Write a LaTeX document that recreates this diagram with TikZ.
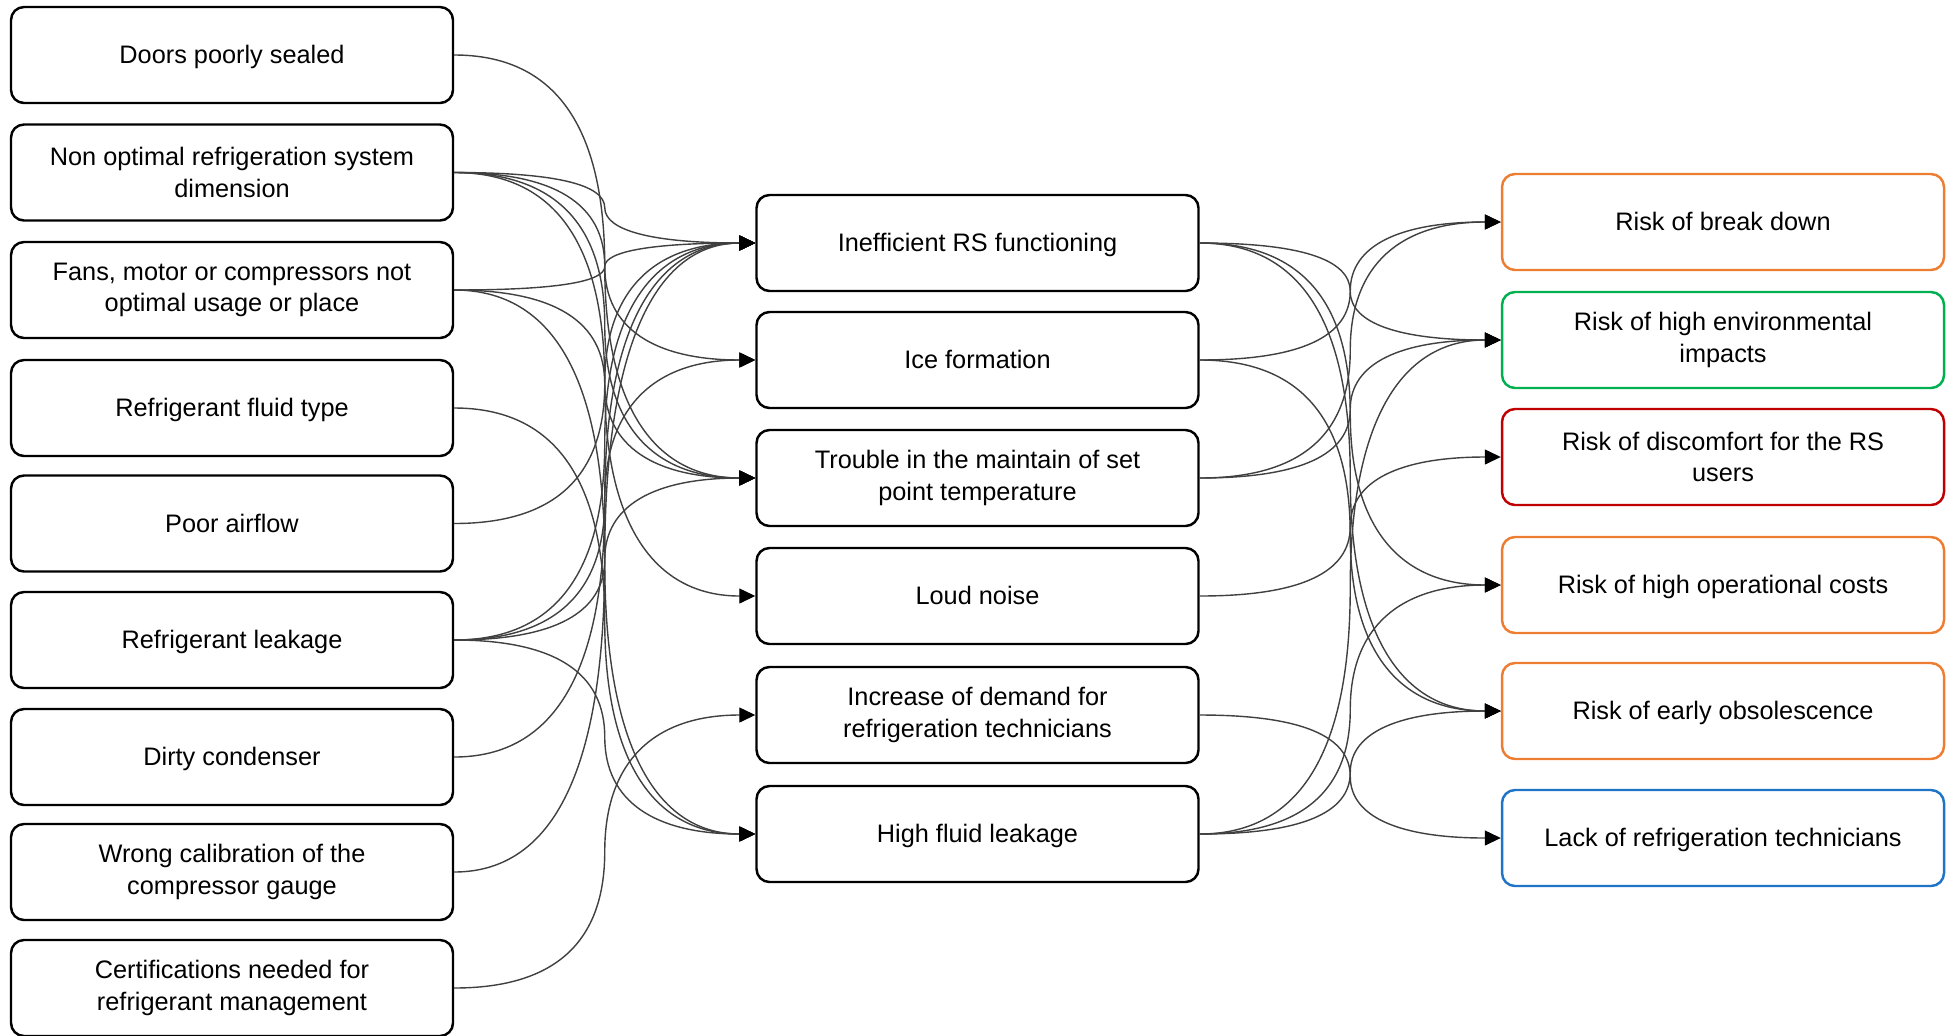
\documentclass[tikz,border=0pt]{standalone}
\usepackage{fontspec}
\setmainfont{Liberation Sans}
\usetikzlibrary{calc,arrows.meta}

\definecolor{riskorange}{HTML}{ED7D31}
\definecolor{riskgreen}{HTML}{00B050}
\definecolor{riskred}{HTML}{C00000}
\definecolor{riskblue}{HTML}{1F74C8}

\tikzset{
    box/.style={draw, line width=0.7pt, rounded corners=1.3mm, minimum width=44.2mm,
        minimum height=9.6mm, align=center, font=\fontsize{7.2}{9}\selectfont},
    oneline/.style={text height=2.3mm, text depth=0.55mm},
    twoline/.style={},
    link/.style={draw=black!75, line width=0.4pt,
        -{Triangle[length=1.6mm,width=1.5mm,color=black]},
        to path={let \p1=(\tikztostart), \p2=(\tikztotarget), \p3=($(\p1)!0.5!(\p2)$) in
            .. controls ($(\p1)!2/3!(\x3,\y1)$) and ($(\x3,\y3)!2/3!(\x3,\y1)$) .. (\x3,\y3)
            .. controls ($(\x3,\y3)!2/3!(\x3,\y2)$) and ($(\p2)!2/3!(\x3,\y2)$) .. (\tikztotarget)
            \tikztonodes}}
}

\begin{document}
\begin{tikzpicture}[x=0.1mm, y=-0.1mm]
    \useasboundingbox (0,0) rectangle (1947,1035);

    \foreach \i/\y/\s/\txt in {1/55/oneline/Doors poorly sealed,
            2/172.5/twoline/{Non optimal refrigeration system\\dimension},
            3/290/twoline/{Fans, motor or compressors not\\optimal usage or place},
            4/408/oneline/Refrigerant fluid type,
            5/523.5/oneline/Poor airflow,
            6/640/oneline/Refrigerant leakage,
            7/757/oneline/Dirty condenser,
            8/872/twoline/{Wrong calibration of the\\compressor gauge},
            9/988/twoline/{Certifications needed for\\refrigerant management}} {
        \node[box, \s] (l\i) at (232, \y) {\txt};
    }

    \foreach \i/\y/\s/\txt in {1/243/oneline/Inefficient RS functioning,
            2/360/oneline/Ice formation,
            3/478/twoline/{Trouble in the maintain of set\\point temperature},
            4/596/oneline/Loud noise,
            5/715/twoline/{Increase of demand for\\refrigeration technicians},
            6/834/oneline/High fluid leakage} {
        \node[box, \s] (m\i) at (977.5, \y) {\txt};
    }

    \node[box, oneline, draw=riskorange] (r1) at (1723, 222) {Risk of break down};
    \node[box, draw=riskgreen] (r2) at (1723, 340) {Risk of high environmental\\impacts};
    \node[box, draw=riskred] (r3) at (1723, 457) {Risk of discomfort for the RS\\users};
    \node[box, oneline, draw=riskorange] (r4) at (1723, 585) {Risk of high operational costs};
    \node[box, oneline, draw=riskorange] (r5) at (1723, 711) {Risk of early obsolescence};
    \node[box, oneline, draw=riskblue] (r6) at (1723, 838) {Lack of refrigeration technicians};

    \foreach \a/\b in {l1/m3, l2/m1, l2/m2, l2/m3, l2/m4, l3/m1, l3/m3, l3/m6,
            l4/m6, l5/m1, l6/m1, l6/m2, l6/m3, l6/m6, l7/m1, l8/m1, l9/m5} {
        \draw[link] (\a.east) to (\b.west);
    }

    \foreach \a/\b in {m1/r2, m1/r4, m1/r5, m2/r1, m2/r5, m3/r1, m3/r2, m4/r3,
            m5/r6, m6/r2, m6/r4, m6/r5} {
        \draw[link] (\a.east) to (\b.west);
    }
\end{tikzpicture}
\end{document}
